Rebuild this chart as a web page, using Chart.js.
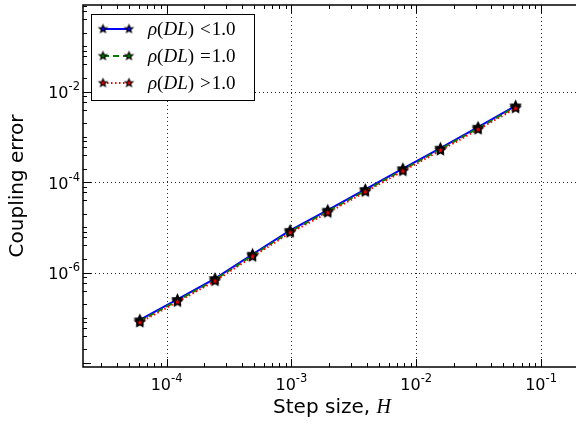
<!DOCTYPE html>
<html>
<head>
<meta charset="utf-8">
<script src="https://cdn.jsdelivr.net/npm/chart.js@4.4.1/dist/chart.umd.min.js"></script>
<style>
  html, body { margin: 0; padding: 0; background: #fff; }
  #wrap { width: 576px; height: 424px; }
</style>
</head>
<body>
<div id="wrap"><canvas id="couplingChart" width="576" height="424"></canvas></div>
<script>
"use strict";

// step sizes H = 2^-14 ... 2^-4
var stepSizes = [6.1035e-5, 1.2207e-4, 2.4414e-4, 4.8828e-4, 9.7656e-4, 1.9531e-3,
                 3.9063e-3, 7.8125e-3, 1.5625e-2, 3.125e-2, 6.25e-2];
// coupling error
var errLess    = [9.0e-8, 2.55e-7, 7.4e-7, 2.55e-6, 8.6e-6, 2.4e-5, 6.9e-5, 1.98e-4, 5.65e-4, 1.64e-3, 4.85e-3];
var errEqual   = [8.5e-8, 2.4e-7, 6.95e-7, 2.4e-6, 8.1e-6, 2.25e-5, 6.5e-5, 1.87e-4, 5.35e-4, 1.55e-3, 4.6e-3];
var errGreater = [7.9e-8, 2.25e-7, 6.5e-7, 2.25e-6, 7.6e-6, 2.1e-5, 6.1e-5, 1.75e-4, 5.0e-4, 1.45e-3, 4.3e-3];
var seriesRelations = ['<', '=', '>'];
var seriesColors = ['#0000ff', '#008000', '#ff0000'];
var xMajorTicks = [1e-4, 1e-3, 1e-2, 1e-1];
var xTickExps = ['-4', '-3', '-2', '-1'];
var yMajorTicks = [1e-2, 1e-4, 1e-6];
var yTickExps = ['-2', '-4', '-6'];
var xRange = [2.14e-5, 0.1905];
var yRange = [8.2e-9, 0.824];

function makeStar(fill, r, lw) {
  var s = Math.ceil(2 * r + 2 * lw + 2);
  var cv = document.createElement('canvas');
  cv.width = s; cv.height = s;
  var g = cv.getContext('2d');
  g.beginPath();
  for (var i = 0; i < 10; i++) {
    var rad = i % 2 === 0 ? r : r * 0.45;
    var a = -Math.PI / 2 + i * Math.PI / 5;
    var px = s / 2 + rad * Math.cos(a), py = s / 2 + rad * Math.sin(a);
    if (i === 0) g.moveTo(px, py); else g.lineTo(px, py);
  }
  g.closePath();
  g.fillStyle = fill;
  g.fill();
  g.lineWidth = lw;
  g.strokeStyle = '#000';
  g.stroke();
  return cv;
}

var plotStars = seriesColors.map(function (c) { return makeStar(c, 4.6, 1.5); });
var legendStars = seriesColors.map(function (c) { return makeStar(c, 4, 1.2); });
var dashes = [[], [6, 4], [1.5, 2.5]];

function toPoints(vals) {
  return stepSizes.map(function (h, i) { return { x: h, y: vals[i] }; });
}

var allSeries = [errLess, errEqual, errGreater];
var datasets = allSeries.map(function (vals, i) {
  return {
    label: 'rho(DL) ' + seriesRelations[i] + ' 1.0',
    data: toPoints(vals),
    borderColor: seriesColors[i],
    backgroundColor: seriesColors[i],
    borderWidth: 2,
    borderDash: dashes[i],
    pointStyle: plotStars[i],
    pointRadius: 5,
    fill: false,
    tension: 0,
    order: 3 - i
  };
});

// text with superscript: "10" + exponent
function drawPower(ctx, x, y, exp, align) {
  ctx.font = '16px "DejaVu Sans"';
  var wb = ctx.measureText('10').width;
  ctx.font = '11.5px "DejaVu Sans"';
  var we = ctx.measureText(exp).width;
  var total = wb + we;
  var x0 = align === 'right' ? x - total : x - total / 2;
  ctx.textAlign = 'left';
  ctx.textBaseline = 'alphabetic';
  ctx.font = '16px "DejaVu Sans"';
  ctx.fillText('10', x0, y);
  ctx.font = '11.5px "DejaVu Sans"';
  ctx.fillText(exp, x0 + wb, y - 8);
}

var axesDecor = {
  id: 'axesDecor',
  beforeDatasetsDraw: function (chart) {
    var ctx = chart.ctx, a = chart.chartArea;
    var xs = chart.scales.x, ys = chart.scales.y;
    ctx.save();
    ctx.strokeStyle = 'rgba(0,0,0,0.85)';
    ctx.lineWidth = 1;
    ctx.setLineDash([1, 3]);
    xMajorTicks.forEach(function (v) {
      var px = Math.round(xs.getPixelForValue(v)) + 0.5;
      ctx.beginPath(); ctx.moveTo(px, a.top); ctx.lineTo(px, a.bottom); ctx.stroke();
    });
    yMajorTicks.forEach(function (v) {
      var py = Math.round(ys.getPixelForValue(v)) + 0.5;
      ctx.beginPath(); ctx.moveTo(a.left, py); ctx.lineTo(a.right, py); ctx.stroke();
    });
    ctx.restore();
  },
  afterDraw: function (chart) {
    var ctx = chart.ctx, a = chart.chartArea;
    var xs = chart.scales.x, ys = chart.scales.y;
    ctx.save();
    ctx.fillStyle = '#000';
    ctx.strokeStyle = '#000';
    ctx.setLineDash([]);

    // ticks (inward)
    ctx.lineWidth = 1;
    var n, k, v, p;
    for (n = -5; n <= 0; n++) {
      for (k = 1; k <= 9; k++) {
        v = k * Math.pow(10, n);
        if (v < xRange[0] || v > xRange[1]) continue;
        p = Math.round(xs.getPixelForValue(v)) + 0.5;
        var len = k === 1 ? 8 : 4;
        ctx.beginPath();
        ctx.moveTo(p, a.bottom); ctx.lineTo(p, a.bottom - len);
        ctx.moveTo(p, a.top); ctx.lineTo(p, a.top + len);
        ctx.stroke();
      }
    }
    for (n = -9; n <= 0; n++) {
      [1, 2, 4, 6, 8].forEach(function (m) {
        var val = m * Math.pow(10, n);
        if (val < yRange[0] || val > yRange[1]) return;
        var py = Math.round(ys.getPixelForValue(val)) + 0.5;
        var major = m === 1 && n % 2 === 0;
        ctx.beginPath();
        ctx.moveTo(a.left, py); ctx.lineTo(a.left + (major ? 8 : 4), py);
        ctx.stroke();
      });
    }

    // frame (right spine lies outside the picture)
    ctx.lineWidth = 1.5;
    ctx.beginPath();
    ctx.moveTo(a.right, a.top); ctx.lineTo(a.left, a.top);
    ctx.lineTo(a.left, a.bottom); ctx.lineTo(a.right, a.bottom);
    ctx.stroke();

    // tick labels
    xMajorTicks.forEach(function (val, i) {
      drawPower(ctx, xs.getPixelForValue(val), a.bottom + 23, xTickExps[i], 'center');
    });
    yMajorTicks.forEach(function (val, i) {
      drawPower(ctx, a.left - 3, ys.getPixelForValue(val) + 6.5, yTickExps[i], 'right');
    });

    // axis titles
    ctx.font = '20px "DejaVu Sans"';
    var t1 = 'Step size, ';
    var w1 = ctx.measureText(t1).width;
    ctx.font = 'italic 20px "Liberation Serif"';
    var w2 = ctx.measureText('H').width;
    var tx = 332 - (w1 + w2) / 2;
    ctx.textAlign = 'left';
    ctx.font = '20px "DejaVu Sans"';
    ctx.fillText(t1, tx, 413);
    ctx.font = 'italic 20px "Liberation Serif"';
    ctx.fillText('H', tx + w1, 413);

    ctx.save();
    ctx.translate(23, (a.top + a.bottom) / 2);
    ctx.rotate(-Math.PI / 2);
    ctx.textAlign = 'center';
    ctx.font = '20px "DejaVu Sans"';
    ctx.fillText('Coupling error', 0, 0);
    ctx.restore();

    // legend
    ctx.fillStyle = '#fff';
    ctx.fillRect(91.5, 14.5, 163, 86);
    ctx.lineWidth = 1;
    ctx.strokeStyle = '#000';
    ctx.strokeRect(91.5, 14.5, 163, 86);
    var rows = [29, 56, 83];
    rows.forEach(function (ry, i) {
      ctx.save();
      ctx.strokeStyle = seriesColors[i];
      ctx.lineWidth = 2;
      ctx.setLineDash(dashes[i]);
      ctx.beginPath(); ctx.moveTo(103, ry); ctx.lineTo(129, ry); ctx.stroke();
      ctx.restore();
      var st = legendStars[i];
      ctx.drawImage(st, 103 - st.width / 2, ry - st.height / 2);
      ctx.drawImage(st, 129 - st.width / 2, ry - st.height / 2);

      var segs = [
        { t: '\u03C1', it: true }, { t: '(', it: false }, { t: 'DL', it: true },
        { t: ')', it: false }, { gap: 6 }, { t: seriesRelations[i], it: false },
        { gap: 1 }, { t: '1.0', it: false }
      ];
      var cx = 148;
      ctx.fillStyle = '#000';
      ctx.textAlign = 'left';
      segs.forEach(function (s) {
        if (s.gap) { cx += s.gap; return; }
        ctx.font = (s.it ? 'italic ' : '') + '19px "Liberation Serif"';
        ctx.fillText(s.t, cx, ry + 6);
        cx += ctx.measureText(s.t).width;
      });
    });
    ctx.restore();
  }
};

new Chart(document.getElementById('couplingChart').getContext('2d'), {
  type: 'line',
  data: { datasets: datasets },
  options: {
    responsive: false,
    animation: false,
    devicePixelRatio: 1,
    layout: { autoPadding: false, padding: { top: 5, left: 0, right: 0, bottom: 0 } },
    plugins: { legend: { display: false }, tooltip: { enabled: false } },
    scales: {
      x: {
        type: 'logarithmic',
        min: xRange[0],
        max: xRange[1],
        grid: { display: false },
        border: { display: false },
        ticks: { display: false },
        afterFit: function (s) { s.height = 57; s.paddingLeft = 0; s.paddingRight = 0; }
      },
      y: {
        type: 'logarithmic',
        min: yRange[0],
        max: yRange[1],
        grid: { display: false },
        border: { display: false },
        ticks: { display: false },
        afterFit: function (s) { s.width = 83; s.paddingTop = 0; s.paddingBottom = 0; }
      }
    }
  },
  plugins: [axesDecor]
});
</script>
</body>
</html>
